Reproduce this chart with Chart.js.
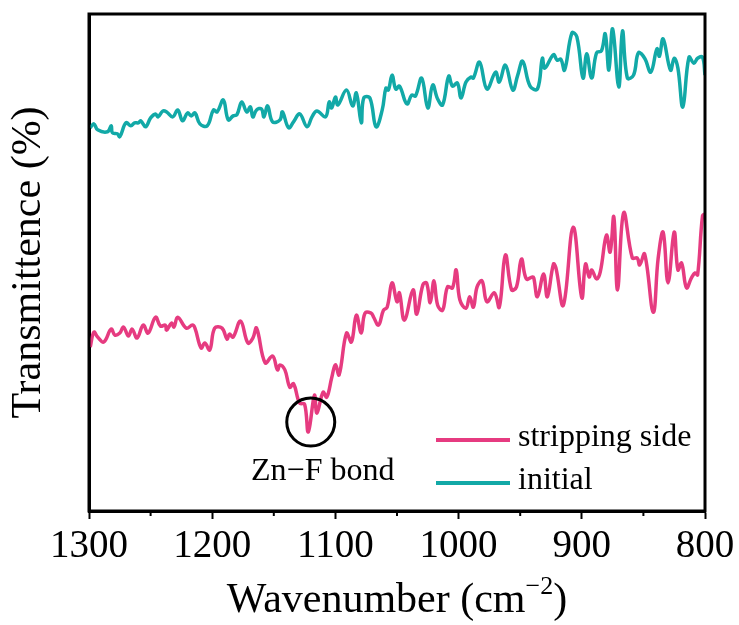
<!DOCTYPE html>
<html lang="en">
<head>
<meta charset="utf-8">
<title>FTIR Transmittence</title>
<script src="https://cdn.jsdelivr.net/npm/chart.js@4.4.1/dist/chart.umd.min.js"></script>
<style>
    html, body { margin: 0; padding: 0; background: #ffffff; }
    #wrap { width: 739px; height: 625px; }
</style>
</head>
<body>
<div id="wrap"><canvas id="ftir" width="739" height="625"></canvas></div>

<script type="text/javascript">

    // spectra (wavenumber cm-1, transmittence in arbitrary units 0..100)
    const initialWn = [1299, 1296, 1293, 1285, 1282, 1281, 1277, 1275, 1270, 1266, 1263, 1260, 1258, 1254, 1250, 1246,
        1244, 1240, 1237, 1232, 1228, 1224, 1220, 1217, 1214, 1210, 1204, 1199, 1196, 1191, 1187, 1183, 1180, 1176,
        1172, 1169, 1167, 1164, 1160, 1158, 1155, 1151, 1145, 1143, 1138, 1134, 1129, 1123, 1119, 1115, 1108, 1105,
        1103, 1100, 1098, 1091, 1086, 1083, 1079, 1077, 1072, 1067, 1062, 1059, 1057, 1054, 1051, 1048, 1042, 1038,
        1035, 1030, 1025, 1021, 1017, 1013, 1008, 1005, 1001, 998, 994, 990, 988, 983, 977, 970, 967, 962, 956, 952,
        948, 942, 936, 932, 930, 923, 920, 917, 914, 908, 904, 899, 896, 892, 888, 884, 881, 878, 875, 870, 867, 863,
        858, 854, 849, 844, 839, 837, 834, 828, 825, 822, 818, 813, 809, 806, 802, 800];
    const initialT = [77.1, 77.9, 76.7, 76.3, 77.5, 76.1, 75.9, 75.3, 78.1, 77.5, 78.1, 78.1, 78.5, 77.3, 79.1, 79.9,
        79.3, 80.5, 80.3, 79.3, 80.7, 78.5, 80.1, 79.5, 80.1, 77.9, 77.5, 80.7, 80.3, 82.7, 78.7, 79.5, 79.7, 82.3,
        80.3, 81.3, 79.3, 80.7, 80.9, 79.3, 81.5, 78.3, 78.7, 80.3, 77.1, 78.3, 79.9, 77.3, 79.3, 80.5, 79.3, 82.3,
        81.1, 83.3, 81.7, 84.7, 81.5, 84.1, 78.1, 83.1, 83.1, 77.3, 80.7, 85.1, 84.7, 87.7, 84.9, 85.5, 81.9, 83.7,
        83.5, 87.1, 81.1, 85.7, 82.9, 81.7, 87.5, 85.5, 86.1, 83.1, 86.3, 87.3, 87.1, 90.3, 84.9, 88.3, 86.3, 89.7,
        84.7, 87.7, 90.5, 85.5, 84.9, 91.1, 89.1, 91.8, 90.7, 90.9, 88.7, 96.2, 95.4, 87.1, 92.0, 87.1, 92.2, 92.6,
        96.0, 88.7, 97.0, 85.3, 96.6, 87.1, 87.7, 92.2, 91.1, 88.3, 93.0, 91.5, 95.0, 88.7, 91.1, 89.1, 81.3, 91.3,
        90.1, 91.1, 91.3, 87.7];

    const strippingWn = [1299, 1296, 1293, 1288, 1282, 1279, 1275, 1272, 1268, 1265, 1261, 1256, 1252, 1246, 1242,
        1238, 1237, 1233, 1231, 1228, 1221, 1216, 1214, 1209, 1206, 1202, 1198, 1192, 1188, 1186, 1183, 1177, 1171,
        1167, 1164, 1157, 1151, 1147, 1145, 1141, 1137, 1134, 1129, 1125, 1122, 1117, 1115, 1110, 1107, 1103, 1100,
        1097, 1091, 1087, 1083, 1079, 1076, 1071, 1069, 1065, 1061, 1058, 1054, 1050, 1048, 1044, 1037, 1034, 1029,
        1026, 1023, 1020, 1017, 1013, 1009, 1005, 1002, 999, 994, 991, 988, 985, 981, 977, 971, 967, 962, 957, 953,
        949, 945, 940, 939, 936, 931, 928, 923, 921, 915, 907, 900, 897, 894, 892, 888, 885, 880, 877, 874, 871, 866,
        859, 855, 853, 849, 842, 838, 834, 830, 825, 822, 819, 815, 811, 808, 806, 802, 800];
    const strippingT = [33.0, 36.0, 35.0, 34.0, 36.6, 35.4, 35.8, 37.0, 35.2, 36.6, 34.8, 37.4, 35.8, 39.0, 37.2,
        37.4, 36.4, 37.8, 37.0, 39.0, 36.8, 37.4, 36.8, 32.8, 33.8, 32.4, 36.8, 36.8, 34.6, 35.6, 35.0, 38.2, 33.8,
        34.8, 36.8, 29.8, 31.2, 28.4, 29.4, 28.4, 24.9, 25.6, 21.7, 21.5, 15.9, 23.3, 19.7, 23.9, 22.9, 26.8, 29.4,
        27.4, 35.8, 34.0, 39.4, 35.8, 39.8, 39.8, 39.0, 37.4, 40.4, 41.0, 45.9, 42.1, 43.9, 38.4, 44.5, 39.6, 45.5,
        45.9, 41.9, 46.3, 41.4, 40.4, 45.1, 44.9, 48.5, 42.5, 40.8, 43.1, 41.0, 45.1, 46.3, 42.1, 43.9, 41.0, 51.5,
        44.5, 45.1, 50.7, 46.7, 47.1, 46.9, 43.1, 47.7, 43.1, 49.7, 48.9, 41.4, 57.1, 42.9, 49.7, 47.1, 48.5, 46.7,
        48.1, 55.5, 52.1, 59.2, 44.5, 60.0, 50.9, 50.9, 49.5, 51.7, 40.0, 50.9, 56.1, 45.9, 56.1, 48.5, 49.9, 44.9,
        46.9, 47.9, 47.5, 59.4, 59.8];

    const xTicks = [1300, 1200, 1100, 1000, 900, 800];
    const xMinorTicks = [1250, 1150, 1050, 950, 850];
    const seriesLabels = ["stripping side", "initial"];
    const seriesColors = ["#E63B80", "#12A9A7"];

    // marked Zn-F dip
    const markWn = 1120;
    const markT = 17.9;
    const markLabel = "Zn\u2212F bond";

    const serif = "'Liberation Serif', 'Times New Roman', serif";

    function pairs(xs, ys) {
        return xs.map((x, i) => ({x: x, y: ys[i]}));
    }

    const extras = {
        id: 'extras',
        afterDraw(chart) {
            const ctx = chart.ctx;
            const area = chart.chartArea;
            const xs = chart.scales.x;
            const ys = chart.scales.y;
            ctx.save();

            // frame
            ctx.strokeStyle = '#000';
            ctx.lineWidth = 3;
            ctx.strokeRect(area.left, area.top, area.right - area.left, area.bottom - area.top);

            // minor ticks
            ctx.lineWidth = 2;
            xMinorTicks.forEach(v => {
                const px = xs.getPixelForValue(v);
                ctx.beginPath();
                ctx.moveTo(px, area.bottom);
                ctx.lineTo(px, area.bottom + 5);
                ctx.stroke();
            });

            // circle + label
            const cx = xs.getPixelForValue(markWn);
            const cy = ys.getPixelForValue(markT);
            ctx.lineWidth = 3;
            ctx.beginPath();
            ctx.arc(cx, cy, 24, 0, Math.PI * 2);
            ctx.stroke();
            ctx.fillStyle = '#000';
            ctx.font = "32px " + serif;
            ctx.textAlign = 'center';
            ctx.textBaseline = 'middle';
            ctx.fillText(markLabel, cx + 12, cy + 50);

            // legend
            ctx.textAlign = 'left';
            seriesLabels.forEach((lab, i) => {
                const y = area.bottom - 71 + i * 43;
                ctx.strokeStyle = seriesColors[i];
                ctx.lineWidth = 4;
                ctx.beginPath();
                ctx.moveTo(area.right - 269, y);
                ctx.lineTo(area.right - 195, y);
                ctx.stroke();
                ctx.fillStyle = '#000';
                ctx.fillText(lab, area.right - 187, y - 2);
            });

            // x title with superscript
            const main = "Wavenumber (cm";
            const sup = "\u22122";
            const end = ")";
            ctx.font = "42px " + serif;
            const w1 = ctx.measureText(main).width;
            const w3 = ctx.measureText(end).width;
            ctx.font = "26px " + serif;
            const w2 = ctx.measureText(sup).width;
            const total = w1 + w2 + w3;
            let x0 = (area.left + area.right) / 2 - total / 2;
            const base = 612;
            ctx.textBaseline = 'alphabetic';
            ctx.font = "42px " + serif;
            ctx.fillText(main, x0, base);
            ctx.font = "26px " + serif;
            ctx.fillText(sup, x0 + w1, base - 18);
            ctx.font = "42px " + serif;
            ctx.fillText(end, x0 + w1 + w2, base);

            ctx.restore();
        }
    };

    new Chart("ftir", {
        type: 'line',
        data: {
            datasets: [
                {
                    label: seriesLabels[0],
                    data: pairs(strippingWn, strippingT),
                    borderColor: seriesColors[0],
                    borderWidth: 3.5,
                    pointRadius: 0,
                    tension: 0.4,
                    fill: false
                },
                {
                    label: seriesLabels[1],
                    data: pairs(initialWn, initialT),
                    borderColor: seriesColors[1],
                    borderWidth: 3.5,
                    pointRadius: 0,
                    tension: 0.4,
                    fill: false
                }
            ]
        },
        options: {
            responsive: false,
            animation: false,
            layout: {padding: {top: 14, right: 34, left: 0, bottom: 0}},
            plugins: {
                legend: {display: false},
                tooltip: {enabled: false}
            },
            scales: {
                x: {
                    type: 'linear',
                    reverse: true,
                    min: 800,
                    max: 1300,
                    afterBuildTicks: scale => { scale.ticks = xTicks.map(v => ({value: v})); },
                    afterFit: scale => { scale.height = 114; },
                    ticks: {
                        color: '#000',
                        font: {family: serif, size: 39},
                        padding: 4,
                        maxRotation: 0,
                        autoSkip: false,
                        callback: v => String(v)
                    },
                    grid: {
                        drawOnChartArea: false,
                        drawTicks: true,
                        tickLength: 8,
                        tickWidth: 2,
                        color: '#000'
                    },
                    border: {display: true, color: '#000', width: 3}
                },
                y: {
                    min: 0,
                    max: 100,
                    afterFit: scale => { scale.width = 89; },
                    ticks: {display: false},
                    grid: {drawOnChartArea: false, drawTicks: false},
                    border: {display: true, color: '#000', width: 3},
                    title: {
                        display: true,
                        text: 'Transmittence (%)',
                        color: '#000',
                        font: {family: serif, size: 42, weight: 'normal'},
                        padding: {top: 4, bottom: 0}
                    }
                }
            }
        },
        plugins: [extras]
    });

</script>
</body>
</html>
